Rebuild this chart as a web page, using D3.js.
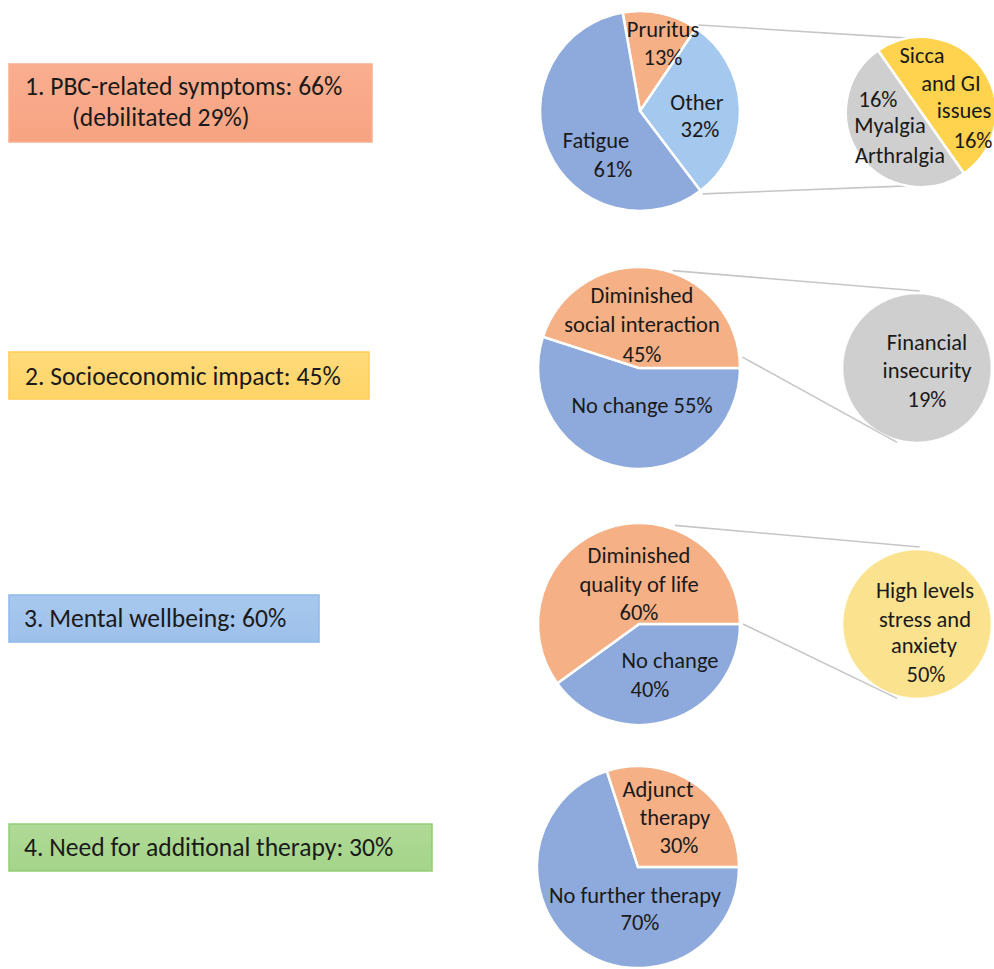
<!DOCTYPE html>
<html><head><meta charset="utf-8">
<script src="https://cdn.jsdelivr.net/npm/d3@7"></script>
<style>
body{margin:0;background:#fff}
svg{display:block}
text{font-family:Carlito,Lato,sans-serif;fill:#1a1a1a}
</style>
</head><body>
<svg id="chart" width="994" height="969"></svg>
<script>
// ---------- data ----------
const boxTitles = [
  ["1. PBC-related symptoms: 66%", "(debilitated 29%)"],
  ["2. Socioeconomic impact: 45%"],
  ["3. Mental wellbeing: 60%"],
  ["4. Need for additional therapy: 30%"]
];
const pie1Categories = ["Pruritus", "Other", "Fatigue"];
const pie1Values = [13, 32, 61];
const sub1Categories = ["Sicca and GI issues", "Myalgia Arthralgia"];
const sub1Values = [16, 16];
const pie2Categories = ["No change", "Diminished social interaction"];
const pie2Values = [55, 45];
const sub2Categories = ["Financial insecurity"];
const sub2Values = [19];
const pie3Categories = ["No change", "Diminished quality of life"];
const pie3Values = [40, 60];
const sub3Categories = ["High levels stress and anxiety"];
const sub3Values = [50];
const pie4Categories = ["No further therapy", "Adjunct therapy"];
const pie4Values = [70, 30];

// ---------- styling / layout ----------
const BLUE = "#8eaadd", LBLUE = "#a5c8ee", ORANGE = "#f5b086", GRAY = "#cfcfcf",
      YELLOW = "#ffd34e", PYELLOW = "#fbe28f";
const FS = 22.5, BFS = 25.6;
const svg = d3.select("#chart");
const defs = svg.append("defs");

const boxStyles = [
  {x: 9, y: 64, w: 363, h: 78, top: "#faae90", bot: "#f7a382", stroke: "#f6b08e", lines: [[25, 95], [72, 126]]},
  {x: 9, y: 352, w: 360, h: 47, top: "#ffdb7a", bot: "#ffd468", stroke: "#ffcd55", lines: [[25, 385]]},
  {x: 9, y: 595, w: 310, h: 47, top: "#a8c8ee", bot: "#9dc0ea", stroke: "#8fb8ec", lines: [[24, 627]]},
  {x: 9, y: 824, w: 423, h: 47, top: "#b0da97", bot: "#a4d489", stroke: "#92cd78", lines: [[24, 856]]}
];

boxTitles.forEach((lines, i) => {
  const s = boxStyles[i];
  const gid = "bg" + i;
  const g = defs.append("linearGradient").attr("id", gid).attr("x1", 0).attr("y1", 0).attr("x2", 0).attr("y2", 1);
  g.append("stop").attr("offset", "0%").attr("stop-color", s.top);
  g.append("stop").attr("offset", "100%").attr("stop-color", s.bot);
  svg.append("rect").attr("x", s.x).attr("y", s.y).attr("width", s.w).attr("height", s.h)
    .attr("fill", `url(#${gid})`).attr("stroke", s.stroke).attr("stroke-width", 1.5);
  lines.forEach((txt, j) => {
    svg.append("text").attr("font-size", BFS)
      .attr("x", s.lines[j][0]).attr("y", s.lines[j][1]).text(txt);
  });
});

const deg = Math.PI / 180;
function drawPie(cfg) {
  const pie = d3.pie().sort(null).startAngle(cfg.start * deg).endAngle(cfg.start * deg + 2 * Math.PI);
  const arc = d3.arc().innerRadius(0).outerRadius(cfg.r);
  const arcs = pie(cfg.values);
  const g = svg.append("g").attr("transform", `translate(${cfg.cx},${cfg.cy})`);
  g.selectAll("path").data(arcs).join("path")
    .attr("d", arc)
    .attr("fill", (d, i) => cfg.colors[i])
    .attr("stroke", "#fff").attr("stroke-width", cfg.values.length > 1 ? 2.5 : 0);
  g.append("circle").attr("r", cfg.r).attr("fill", "none").attr("stroke", "rgba(255,255,255,0.5)").attr("stroke-width", 1);
  cfg.labels.forEach((lab, i) => {
    lab.forEach(([t, x, y]) => {
      const txt = t === null ? cfg.values[i] + "%" : t;
      svg.append("text").attr("x", x).attr("y", y).attr("text-anchor", "middle")
        .attr("font-size", FS).text(txt);
    });
  });
  return {cfg, arcs};
}
function connect(a, b, aAng, aR, bAng, bR) {
  const p = d3.pointRadial(aAng * deg, aR), q = d3.pointRadial(bAng * deg, bR);
  svg.append("line")
    .attr("x1", a.cx + p[0]).attr("y1", a.cy + p[1])
    .attr("x2", b.cx + q[0]).attr("y2", b.cy + q[1])
    .attr("stroke", "#c6c6c6").attr("stroke-width", 1.6);
}

// pie 1 + secondary
const p1 = {cx: 640, cy: 111, r: 100, start: -10, values: pie1Values, colors: [ORANGE, LBLUE, BLUE],
  labels: [
    [["Pruritus", 663, 37], [null, 663, 65]],
    [["Other", 697, 110], [null, 700, 137]],
    [["Fatigue", 596, 148], [null, 613, 177]]
  ]};
const s1 = {cx: 921, cy: 112, r: 75, start: -35, values: sub1Values, colors: [YELLOW, GRAY],
  labels: [
    [["Sicca", 922, 63], ["and GI", 951, 91], ["issues", 964, 118], [null, 973, 148]],
    [[null, 878, 107], ["Myalgia", 890, 133], ["Arthralgia", 900, 163]]
  ]};
// pie 2 + secondary
const p2 = {cx: 639, cy: 368, r: 101, start: 90, values: pie2Values, colors: [BLUE, ORANGE],
  labels: [
    [["No change " + pie2Values[0] + "%", 642, 413]],
    [["Diminished", 642, 303], ["social interaction", 642, 332], [null, 642, 362]]
  ]};
const s2 = {cx: 917, cy: 368, r: 74, start: 0, values: sub2Values, colors: [GRAY],
  labels: [[["Financial", 927, 350], ["insecurity", 927, 378], [null, 927, 407]]]};
// pie 3 + secondary
const p3 = {cx: 639, cy: 624, r: 101, start: 90, values: pie3Values, colors: [BLUE, ORANGE],
  labels: [
    [["No change", 670, 668], [null, 650, 697]],
    [["Diminished", 639, 563], ["quality of life", 639, 592], [null, 639, 620]]
  ]};
const s3 = {cx: 917, cy: 624, r: 74, start: 0, values: sub3Values, colors: [PYELLOW],
  labels: [[["High levels", 925, 598], ["stress and", 925, 627], ["anxiety", 924, 653], [null, 926, 682]]]};
// pie 4
const p4 = {cx: 638, cy: 867, r: 101, start: 90, values: pie4Values, colors: [BLUE, ORANGE],
  labels: [
    [["No further therapy", 635, 903], [null, 640, 930]],
    [["Adjunct", 658, 797], ["therapy", 675, 825], [null, 679, 853]]
  ]};

// connectors first (behind pies)
const a1 = d3.pie().sort(null).startAngle(p1.start * deg)(pie1Values);
connect(p1, s1, a1[1].startAngle / deg, p1.r + 4, -10, s1.r);
connect(p1, s1, a1[1].endAngle / deg, p1.r + 4, 190, s1.r);
connect(p2, s2, 19, p2.r + 2, 2, s2.r + 3);
connect(p2, s2, 84, p2.r + 3, 195, s2.r + 3);
connect(p3, s3, 20, p3.r + 4, 2, s3.r + 3);
connect(p3, s3, 90, p3.r + 3, 195, s3.r + 3);

[p1, s1, p2, s2, p3, s3, p4].forEach(drawPie);
</script>
</body></html>
